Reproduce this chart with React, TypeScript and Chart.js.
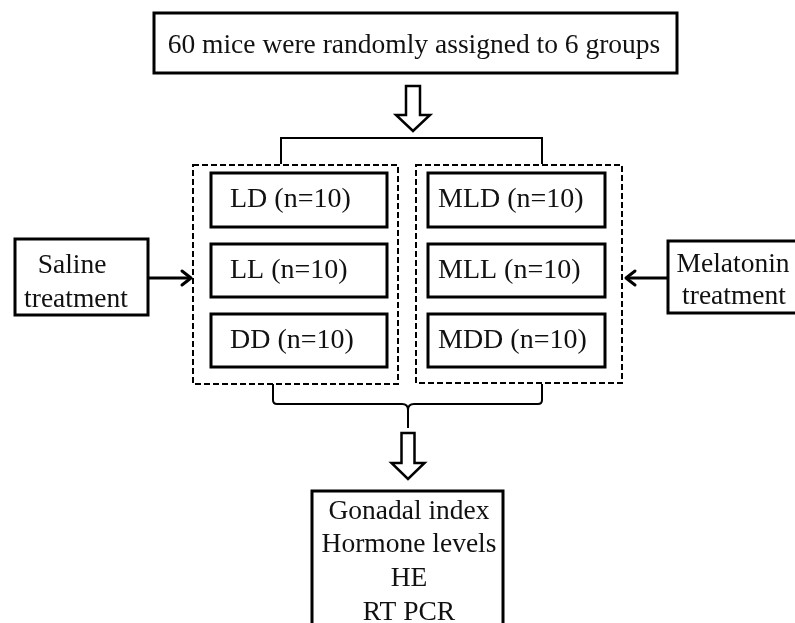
import React, { useEffect, useRef } from "react";
import { Chart, registerables } from "chart.js";

Chart.register(...registerables);

// ---- content ----
const topLabel = "60 mice were randomly assigned to 6 groups";
const salineGroups = ["LD (n=10)", "LL (n=10)", "DD (n=10)"];
const melatoninGroups = ["MLD (n=10)", "MLL (n=10)", "MDD (n=10)"];
const salineLabel = ["Saline", "treatment"];
const melatoninLabel = ["Melatonin", "treatment"];
const outcomeLabels = ["Gonadal index", "Hormone levels", "HE", "RT PCR"];

// ---- layout (data-space units, 0..795 x 0..623) ----
const TOP_BOX = [154, 13, 677, 73];
const TOP_TEXT = [414, 53];
const ARROW1 = { cx: 413, sw: 7, hw: 17, top: 86, head: 115, tip: 131 };
const ARROW2 = { cx: 408, sw: 6.5, hw: 16.5, top: 433, head: 463, tip: 479 };
const TOP_BRACKET = { x0: 281, x1: 542, y: 138, yEnd: 164 };
const DASH_LEFT = [193, 165, 398, 384];
const DASH_RIGHT = [416, 165, 622, 383];
const ROWS = [
  [173, 227],
  [244, 297],
  [314, 367],
];
const INNER_LEFT_X = [211, 387];
const INNER_RIGHT_X = [428, 605];
const INNER_TEXT_X = [230, 438];
const SALINE_BOX = [15, 239, 148, 315];
const SALINE_TEXT = [[72, 273], [76, 307]];
const MELA_BOX = [668, 241, 805, 313];
const MELA_TEXT = [[733, 272], [734, 304]];
const ARROW_Y = 278;
const SALINE_ARROW = [148, 191];
const MELA_ARROW = [668, 626];
const BRACE = { x0: 273, x1: 542, cx: 408, top: 384, y: 404, stem: 428, r: 4 };
const OUT_BOX = [312, 491, 503, 680];
const OUT_TEXT_X = 409;
const OUT_BASELINES = [519, 552, 586, 620];

const FONT_FAMILY = '"Liberation Serif", "Times New Roman", serif';

const flowPlugin = {
  id: "flowchart",
  afterDraw(chart: any) {
    const ctx: CanvasRenderingContext2D = chart.ctx;
    const xs = chart.scales.x;
    const ys = chart.scales.y;
    const X = (v: number) => xs.getPixelForValue(v);
    const Y = (v: number) => ys.getPixelForValue(v);

    ctx.save();
    ctx.strokeStyle = "#000";
    ctx.fillStyle = "#000";
    ctx.lineJoin = "miter";

    const rect = (b: number[], lw: number, dash: number[] = []) => {
      ctx.save();
      ctx.lineWidth = lw;
      ctx.setLineDash(dash);
      ctx.strokeRect(X(b[0]), Y(b[1]), X(b[2]) - X(b[0]), Y(b[3]) - Y(b[1]));
      ctx.restore();
    };
    const text = (s: string, x: number, y: number, align: CanvasTextAlign, size = 27.5) => {
      ctx.save();
      ctx.font = `${size}px ${FONT_FAMILY}`;
      ctx.textAlign = align;
      ctx.textBaseline = "alphabetic";
      ctx.fillStyle = "#111";
      ctx.fillText(s, X(x), Y(y));
      ctx.restore();
    };
    const hollowArrow = (a: any) => {
      ctx.save();
      ctx.lineWidth = 2.5;
      ctx.beginPath();
      ctx.moveTo(X(a.cx - a.sw), Y(a.top));
      ctx.lineTo(X(a.cx + a.sw), Y(a.top));
      ctx.lineTo(X(a.cx + a.sw), Y(a.head));
      ctx.lineTo(X(a.cx + a.hw), Y(a.head));
      ctx.lineTo(X(a.cx), Y(a.tip));
      ctx.lineTo(X(a.cx - a.hw), Y(a.head));
      ctx.lineTo(X(a.cx - a.sw), Y(a.head));
      ctx.closePath();
      ctx.fillStyle = "#fff";
      ctx.fill();
      ctx.stroke();
      ctx.restore();
    };
    const sideArrow = (from: number, to: number) => {
      const dir = to > from ? 1 : -1;
      ctx.save();
      ctx.lineWidth = 3;
      ctx.lineCap = "butt";
      ctx.beginPath();
      ctx.moveTo(X(from), Y(ARROW_Y));
      ctx.lineTo(X(to - dir * 1.5), Y(ARROW_Y));
      ctx.stroke();
      ctx.lineCap = "round";
      ctx.lineJoin = "round";
      ctx.beginPath();
      ctx.moveTo(X(to - dir * 9), Y(ARROW_Y - 7));
      ctx.lineTo(X(to), Y(ARROW_Y));
      ctx.lineTo(X(to - dir * 9), Y(ARROW_Y + 7));
      ctx.stroke();
      ctx.restore();
    };

    // top box
    rect(TOP_BOX, 3);
    text(topLabel, TOP_TEXT[0], TOP_TEXT[1], "center", 27.5);

    // arrow 1
    hollowArrow(ARROW1);

    // top bracket
    ctx.save();
    ctx.lineWidth = 2;
    ctx.beginPath();
    ctx.moveTo(X(TOP_BRACKET.x0), Y(TOP_BRACKET.yEnd));
    ctx.lineTo(X(TOP_BRACKET.x0), Y(TOP_BRACKET.y));
    ctx.lineTo(X(TOP_BRACKET.x1), Y(TOP_BRACKET.y));
    ctx.lineTo(X(TOP_BRACKET.x1), Y(TOP_BRACKET.yEnd));
    ctx.stroke();
    ctx.restore();

    // dashed group boxes
    rect(DASH_LEFT, 2, [6, 3]);
    rect(DASH_RIGHT, 2, [6, 3]);

    // inner group boxes
    ROWS.forEach((r, i) => {
      rect([INNER_LEFT_X[0], r[0], INNER_LEFT_X[1], r[1]], 3);
      rect([INNER_RIGHT_X[0], r[0], INNER_RIGHT_X[1], r[1]], 3);
      const base = (r[0] + r[1]) / 2 + 7;
      text(salineGroups[i], INNER_TEXT_X[0], base, "left", 28);
      text(melatoninGroups[i], INNER_TEXT_X[1], base, "left", 28);
    });

    // side boxes
    rect(SALINE_BOX, 3);
    salineLabel.forEach((s, i) => text(s, SALINE_TEXT[i][0], SALINE_TEXT[i][1], "center"));
    rect(MELA_BOX, 3);
    melatoninLabel.forEach((s, i) => text(s, MELA_TEXT[i][0], MELA_TEXT[i][1], "center"));
    sideArrow(SALINE_ARROW[0], SALINE_ARROW[1]);
    sideArrow(MELA_ARROW[0], MELA_ARROW[1]);

    // bottom brace
    const b = BRACE;
    ctx.save();
    ctx.lineWidth = 2;
    ctx.beginPath();
    ctx.moveTo(X(b.x0), Y(b.top));
    ctx.lineTo(X(b.x0), Y(b.y - b.r));
    ctx.quadraticCurveTo(X(b.x0), Y(b.y), X(b.x0 + b.r), Y(b.y));
    ctx.lineTo(X(b.cx - b.r - 2), Y(b.y));
    ctx.quadraticCurveTo(X(b.cx), Y(b.y), X(b.cx), Y(b.y + b.r + 2));
    ctx.lineTo(X(b.cx), Y(b.stem));
    ctx.moveTo(X(b.x1), Y(b.top));
    ctx.lineTo(X(b.x1), Y(b.y - b.r));
    ctx.quadraticCurveTo(X(b.x1), Y(b.y), X(b.x1 - b.r), Y(b.y));
    ctx.lineTo(X(b.cx + b.r + 2), Y(b.y));
    ctx.quadraticCurveTo(X(b.cx), Y(b.y), X(b.cx), Y(b.y + b.r + 2));
    ctx.stroke();
    ctx.restore();

    // arrow 2
    hollowArrow(ARROW2);

    // outcome box
    rect(OUT_BOX, 3);
    outcomeLabels.forEach((s, i) => text(s, OUT_TEXT_X, OUT_BASELINES[i], "center"));

    ctx.restore();
  },
};

export default function App() {
  const ref = useRef<HTMLCanvasElement | null>(null);
  useEffect(() => {
    if (!ref.current) return;
    const chart = new Chart(ref.current, {
      type: "scatter",
      data: { datasets: [{ data: [], pointRadius: 0 }] },
      options: {
        animation: false,
        responsive: false,
        maintainAspectRatio: false,
        devicePixelRatio: 1,
        layout: { padding: 0 },
        plugins: { legend: { display: false }, tooltip: { enabled: false } },
        scales: {
          x: { type: "linear", min: 0, max: 795, display: false },
          y: { type: "linear", min: 0, max: 623, reverse: true, display: false },
        },
      },
      plugins: [flowPlugin],
    } as any);
    return () => chart.destroy();
  }, []);
  return (
    <div
      style={{
        position: "fixed",
        left: 0,
        top: 0,
        width: 795,
        height: 623,
        background: "#fff",
        overflow: "hidden",
      }}
    >
      <canvas ref={ref} width={795} height={623} style={{ display: "block" }} />
    </div>
  );
}
